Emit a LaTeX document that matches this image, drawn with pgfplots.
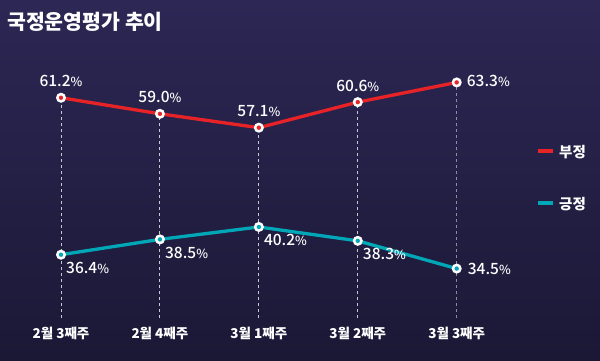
\documentclass[border=0pt]{standalone}
\usepackage{pgfplots}
\pgfplotsset{compat=1.18}
\usepackage{fontspec}
\setmainfont{Noto Sans CJK KR}
\newfontfamily\krm{Noto Sans CJK KR Medium}
\definecolor{bgtop}{RGB}{44,39,84}
\definecolor{bgbot}{RGB}{27,24,54}
\definecolor{myred}{RGB}{232,35,40}
\definecolor{myteal}{RGB}{0,167,183}
\definecolor{dashc}{RGB}{200,200,212}
\newcommand\pct{{\fontsize{12.5}{14}\selectfont\%}}
\begin{document}
\begin{tikzpicture}[x=1pt,y=1pt]
\shade[top color=bgtop,bottom color=bgbot] (0,0) rectangle (600,360);
\useasboundingbox (0,0) rectangle (600,360);
\node[anchor=west,text=white,font=\fontsize{20.5}{23}\selectfont\bfseries,inner sep=0] at (7,338) {국정운영평가 추이};
\pgfplotsset{base/.style={
  at={(61pt,42pt)}, anchor=south west, scale only axis, width=395.7pt, height=258pt,
  xmin=0, xmax=4, axis line style={draw=none}, major tick style={draw=none}, ymajorticks=false,
  xtick={0,1,2,3,4}},
  lab/.style={draw=none, nodes near coords, point meta=explicit symbolic,
  nodes near coords style={text=white, font=\krm\fontsize{15.5}{18}\selectfont, inner sep=0pt, #1}}}
% red axis
\begin{axis}[base, ymin=31.03, ymax=66.37,
  xticklabels={2월 3째주,2월 4째주,3월 1째주,3월 2째주,3월 3째주},
  xticklabel style={text=white, font=\fontsize{13.5}{15}\selectfont\bfseries, anchor=base, yshift=-20pt}]
\addplot[ycomb, draw=dashc, line width=1pt, dash pattern=on 3.5pt off 2.5pt] coordinates {(0,61.2)(1,59.0)(2,57.1)(3,60.6)(4,63.3)};
\addplot[myred, line width=3.3pt, mark=*, mark size=3.7pt, mark options={fill=myred, draw=white, line width=2.5pt}] coordinates {(0,61.2)(1,59.0)(2,57.1)(3,60.6)(4,63.3)};
\addplot[lab={anchor=base, yshift=11pt}] coordinates {(0,61.2)[61.2\pct] (1,59.0)[59.0\pct] (2,57.1)[57.1\pct] (3,60.6)[60.6\pct]};
\addplot[lab={anchor=base west, xshift=10pt, yshift=-4pt}] coordinates {(4,63.3)[63.3\pct]};
\end{axis}
% teal axis
\begin{axis}[base, ymin=27.73, ymax=63.07, xticklabels={}]
\addplot[myteal, line width=3.3pt, mark=*, mark size=3.7pt, mark options={fill=myteal, draw=white, line width=2.5pt}] coordinates {(0,36.4)(1,38.5)(2,40.2)(3,38.3)(4,34.5)};
\addplot[lab={anchor=base west, xshift=5pt, yshift=-19pt}] coordinates {(0,36.4)[36.4\pct] (1,38.5)[38.5\pct] (2,40.2)[40.2\pct] (3,38.3)[38.3\pct]};
\addplot[lab={anchor=base west, xshift=11pt, yshift=-6pt}] coordinates {(4,34.5)[34.5\pct]};
\end{axis}
% legend
\draw[myred, line width=4pt] (538,209) -- (553,209);
\node[anchor=west, text=white, font=\fontsize{14.5}{17}\selectfont\bfseries, inner sep=0] at (559,208) {부정};
\draw[myteal, line width=4pt] (538,157) -- (553,157);
\node[anchor=west, text=white, font=\fontsize{14.5}{17}\selectfont\bfseries, inner sep=0] at (559,156) {긍정};
\end{tikzpicture}
\end{document}
